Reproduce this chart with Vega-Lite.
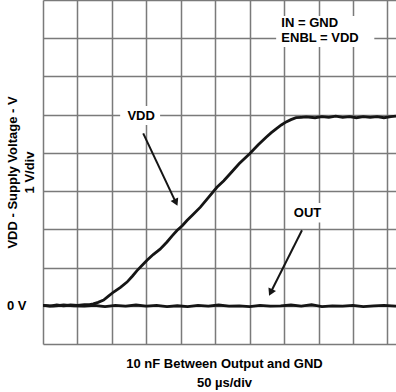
{
  "$schema": "https://vega.github.io/schema/vega-lite/v6.json",
  "width": 353,
  "height": 344,
  "autosize": {"type": "none"},
  "padding": {"left": 43, "top": 0, "right": 0, "bottom": 48},
  "background": "white",
  "config": {"view": {"stroke": null}, "font": "Liberation Sans"},
  "datasets": {
    "traces": [
      {"trace": "VDD", "t": 0.00, "v": 0.01}, {"trace": "VDD", "t": 0.20, "v": -0.01}, {"trace": "VDD", "t": 0.40, "v": 0.02},
      {"trace": "VDD", "t": 0.60, "v": 0.00}, {"trace": "VDD", "t": 0.80, "v": 0.02}, {"trace": "VDD", "t": 1.00, "v": 0.01},
      {"trace": "VDD", "t": 1.20, "v": 0.03}, {"trace": "VDD", "t": 1.35, "v": 0.03}, {"trace": "VDD", "t": 1.46, "v": 0.05},
      {"trace": "VDD", "t": 1.60, "v": 0.09}, {"trace": "VDD", "t": 1.76, "v": 0.15}, {"trace": "VDD", "t": 1.90, "v": 0.25},
      {"trace": "VDD", "t": 2.05, "v": 0.36}, {"trace": "VDD", "t": 2.25, "v": 0.48}, {"trace": "VDD", "t": 2.44, "v": 0.62},
      {"trace": "VDD", "t": 2.60, "v": 0.78}, {"trace": "VDD", "t": 2.73, "v": 0.92}, {"trace": "VDD", "t": 2.88, "v": 1.06},
      {"trace": "VDD", "t": 3.02, "v": 1.19}, {"trace": "VDD", "t": 3.20, "v": 1.34}, {"trace": "VDD", "t": 3.40, "v": 1.48},
      {"trace": "VDD", "t": 3.60, "v": 1.67}, {"trace": "VDD", "t": 3.75, "v": 1.83}, {"trace": "VDD", "t": 3.89, "v": 1.97},
      {"trace": "VDD", "t": 4.05, "v": 2.10}, {"trace": "VDD", "t": 4.18, "v": 2.23}, {"trace": "VDD", "t": 4.35, "v": 2.38},
      {"trace": "VDD", "t": 4.57, "v": 2.58}, {"trace": "VDD", "t": 4.80, "v": 2.83}, {"trace": "VDD", "t": 5.05, "v": 3.10},
      {"trace": "VDD", "t": 5.25, "v": 3.27}, {"trace": "VDD", "t": 5.44, "v": 3.46}, {"trace": "VDD", "t": 5.70, "v": 3.72},
      {"trace": "VDD", "t": 6.00, "v": 3.98}, {"trace": "VDD", "t": 6.25, "v": 4.21}, {"trace": "VDD", "t": 6.48, "v": 4.41},
      {"trace": "VDD", "t": 6.63, "v": 4.53}, {"trace": "VDD", "t": 6.77, "v": 4.63}, {"trace": "VDD", "t": 6.92, "v": 4.73},
      {"trace": "VDD", "t": 7.06, "v": 4.81}, {"trace": "VDD", "t": 7.20, "v": 4.87}, {"trace": "VDD", "t": 7.35, "v": 4.92},
      {"trace": "VDD", "t": 7.50, "v": 4.93}, {"trace": "VDD", "t": 7.64, "v": 4.94}, {"trace": "VDD", "t": 7.90, "v": 4.92},
      {"trace": "VDD", "t": 8.10, "v": 4.95}, {"trace": "VDD", "t": 8.30, "v": 4.93}, {"trace": "VDD", "t": 8.50, "v": 4.96},
      {"trace": "VDD", "t": 8.70, "v": 4.93}, {"trace": "VDD", "t": 8.90, "v": 4.95}, {"trace": "VDD", "t": 9.10, "v": 4.92},
      {"trace": "VDD", "t": 9.30, "v": 4.95}, {"trace": "VDD", "t": 9.50, "v": 4.93}, {"trace": "VDD", "t": 9.70, "v": 4.95},
      {"trace": "VDD", "t": 9.90, "v": 4.92}, {"trace": "VDD", "t": 10.10, "v": 4.95}, {"trace": "VDD", "t": 10.25, "v": 4.96},
      {"trace": "OUT", "t": 0.0, "v": 0.01}, {"trace": "OUT", "t": 0.3, "v": -0.01}, {"trace": "OUT", "t": 0.6, "v": 0.02},
      {"trace": "OUT", "t": 0.9, "v": 0.0}, {"trace": "OUT", "t": 1.2, "v": -0.01}, {"trace": "OUT", "t": 1.5, "v": 0.01},
      {"trace": "OUT", "t": 1.8, "v": -0.02}, {"trace": "OUT", "t": 2.1, "v": 0.01}, {"trace": "OUT", "t": 2.4, "v": -0.01},
      {"trace": "OUT", "t": 2.7, "v": 0.02}, {"trace": "OUT", "t": 3.0, "v": -0.01}, {"trace": "OUT", "t": 3.3, "v": 0.01},
      {"trace": "OUT", "t": 3.6, "v": -0.02}, {"trace": "OUT", "t": 3.9, "v": 0.0}, {"trace": "OUT", "t": 4.2, "v": -0.02},
      {"trace": "OUT", "t": 4.5, "v": 0.01}, {"trace": "OUT", "t": 4.8, "v": -0.01}, {"trace": "OUT", "t": 5.1, "v": 0.02},
      {"trace": "OUT", "t": 5.4, "v": -0.01}, {"trace": "OUT", "t": 5.7, "v": 0.0}, {"trace": "OUT", "t": 6.0, "v": -0.02},
      {"trace": "OUT", "t": 6.3, "v": 0.01}, {"trace": "OUT", "t": 6.6, "v": -0.01}, {"trace": "OUT", "t": 6.9, "v": 0.0},
      {"trace": "OUT", "t": 7.2, "v": 0.02}, {"trace": "OUT", "t": 7.5, "v": -0.01}, {"trace": "OUT", "t": 7.8, "v": 0.03},
      {"trace": "OUT", "t": 8.1, "v": -0.02}, {"trace": "OUT", "t": 8.4, "v": 0.0}, {"trace": "OUT", "t": 8.7, "v": -0.01},
      {"trace": "OUT", "t": 9.0, "v": 0.01}, {"trace": "OUT", "t": 9.3, "v": -0.02}, {"trace": "OUT", "t": 9.6, "v": 0.0},
      {"trace": "OUT", "t": 9.9, "v": 0.01}, {"trace": "OUT", "t": 10.25, "v": -0.01}
    ],
    "boxes": [
      {"t": 2.24, "t2": 3.40, "v": 4.73, "v2": 5.23},
      {"t": 7.18, "t2": 8.22, "v": 2.18, "v2": 2.69},
      {"t": 6.77, "t2": 9.62, "v": 6.77, "v2": 7.58}
    ],
    "centerLabels": [
      {"label": "VDD", "t": 2.85, "v": 4.97},
      {"label": "OUT", "t": 7.68, "v": 2.44}
    ],
    "leftLabels": [
      {"label": "IN = GND", "t": 6.92, "v": 7.40},
      {"label": "ENBL = VDD", "t": 6.92, "v": 7.0}
    ],
    "arrows": [
      {"name": "VDD", "t": 2.91, "v": 4.51, "t2": 3.86, "v2": 2.70},
      {"name": "OUT", "t": 7.52, "v": 1.975, "t2": 6.61, "v2": 0.347}
    ]
  },
  "layer": [
    {
      "data": {"name": "boxes"},
      "mark": {"type": "rect", "fill": "white", "stroke": null},
      "encoding": {
        "x": {"field": "t", "type": "quantitative", "scale": {"domain": [0, 10.25], "nice": false, "zero": false},
          "axis": {"values": [0,1,2,3,4,5,6,7,8,9,10], "tickCount": 40, "grid": true, "gridColor": "#7a7a7a", "gridWidth": 1.5, "gridOpacity": 1,
            "ticks": false, "domain": false, "labels": false,
            "title": ["10 nF Between Output and GND", "50 µs/div"],
            "titleFont": "Liberation Sans", "titleFontWeight": "bold", "titleFontSize": 13, "titleColor": "black",
            "titleX": 181, "titleY": 23, "titleBaseline": "alphabetic", "titleAlign": "center", "titleLineHeight": 19}},
        "x2": {"field": "t2"},
        "y": {"field": "v", "type": "quantitative", "scale": {"domain": [-1, 8], "nice": false, "zero": false},
          "axis": {"values": [-1,0,1,2,3,4,5,6,7,8], "tickCount": 40, "grid": true, "gridColor": "#7a7a7a", "gridWidth": 1.5, "gridOpacity": 1,
            "ticks": false, "domain": false, "labelOverlap": false,
            "labelExpr": "datum.value == 0 ? '0 V' : ''",
            "labelFont": "Liberation Sans", "labelFontWeight": "bold", "labelFontSize": 13, "labelColor": "black", "labelPadding": 17,
            "title": ["VDD - Supply Voltage - V", "1 V/div"],
            "titleFont": "Liberation Sans", "titleFontWeight": "bold", "titleFontSize": 13, "titleColor": "black",
            "titleX": -27, "titleY": 172, "titleAngle": -90, "titleBaseline": "alphabetic", "titleAlign": "center", "titleLineHeight": 17}},
        "y2": {"field": "v2"}
      }
    },
    {
      "data": {"name": "traces"},
      "mark": {"type": "line", "color": "#151515", "strokeWidth": 2.8, "clip": true},
      "encoding": {
        "x": {"field": "t", "type": "quantitative"},
        "y": {"field": "v", "type": "quantitative"},
        "detail": {"field": "trace"},
        "order": {"field": "t"}
      }
    },
    {
      "data": {"name": "arrows"},
      "mark": {"type": "rule", "color": "#151515", "strokeWidth": 2},
      "encoding": {
        "x": {"field": "t", "type": "quantitative"},
        "y": {"field": "v", "type": "quantitative"},
        "x2": {"field": "t2"},
        "y2": {"field": "v2"}
      }
    },
    {
      "data": {"name": "arrows"},
      "transform": [{"filter": "datum.name == 'VDD'"}],
      "mark": {"type": "point", "shape": "triangle-up", "filled": true, "color": "#151515", "size": 70, "angle": 155, "opacity": 1},
      "encoding": {
        "x": {"field": "t2", "type": "quantitative"},
        "y": {"field": "v2", "type": "quantitative"}
      }
    },
    {
      "data": {"name": "arrows"},
      "transform": [{"filter": "datum.name == 'OUT'"}],
      "mark": {"type": "point", "shape": "triangle-up", "filled": true, "color": "#151515", "size": 70, "angle": 206, "opacity": 1},
      "encoding": {
        "x": {"field": "t2", "type": "quantitative"},
        "y": {"field": "v2", "type": "quantitative"}
      }
    },
    {
      "data": {"name": "centerLabels"},
      "mark": {"type": "text", "font": "Liberation Sans", "fontWeight": "bold", "fontSize": 13, "color": "black", "align": "center", "baseline": "middle"},
      "encoding": {
        "x": {"field": "t", "type": "quantitative"},
        "y": {"field": "v", "type": "quantitative"},
        "text": {"field": "label"}
      }
    },
    {
      "data": {"name": "leftLabels"},
      "mark": {"type": "text", "font": "Liberation Sans", "fontWeight": "bold", "fontSize": 13, "color": "black", "align": "left", "baseline": "middle"},
      "encoding": {
        "x": {"field": "t", "type": "quantitative"},
        "y": {"field": "v", "type": "quantitative"},
        "text": {"field": "label"}
      }
    }
  ]
}
